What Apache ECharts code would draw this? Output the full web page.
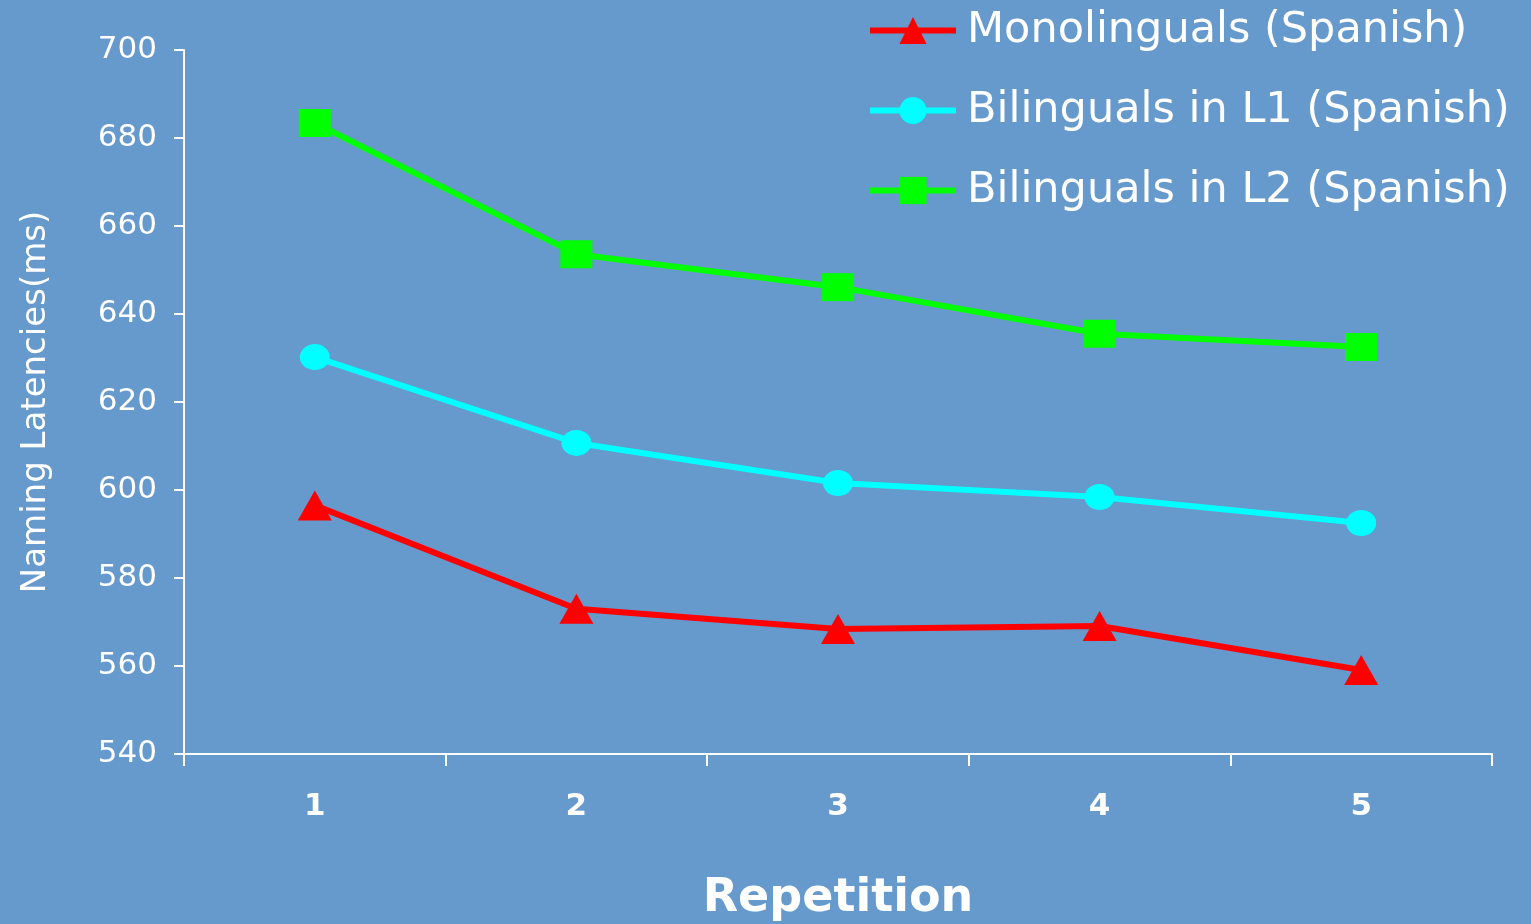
<!DOCTYPE html>
<html>
<head>
<meta charset="utf-8">
<script src="https://cdn.jsdelivr.net/npm/echarts@6/dist/echarts.min.js"></script>
<style>
  html, body { margin: 0; padding: 0; background: #6699CC; }
  #chart { width: 1531px; height: 924px; }
</style>
</head>
<body>
<div id="chart"></div>
<script>
// Repetition number on the x axis
const repetitions = ['1', '2', '3', '4', '5'];

// Mean naming latencies (ms) per group
const monolingualsSpanish = [596.5, 573, 568.4, 569.1, 559.1];
const bilingualsL1Spanish = [630.2, 610.7, 601.6, 598.4, 592.5];
const bilingualsL2Spanish = [683.4, 653.6, 646.1, 635.5, 632.5];

// Series labels for the legend
const seriesNames = [
  'Monolinguals (Spanish)',
  'Bilinguals in L1 (Spanish)',
  'Bilinguals in L2 (Spanish)'
];

const font = '"Comic Sans MS", "DejaVu Sans", sans-serif';

const chart = echarts.init(document.getElementById('chart'));

function lineSeries(name, data, color, symbol, size) {
  return {
    name: name,
    type: 'line',
    data: data,
    symbol: symbol,
    symbolSize: size,
    showSymbol: true,
    lineStyle: { color: color, width: 6 },
    itemStyle: { color: color },
    emphasis: { disabled: true },
    z: 3
  };
}

chart.setOption({
  backgroundColor: '#6699CC',
  animation: false,
  grid: {
    left: 184, right: 39, top: 50, bottom: 170,
    containLabel: false,
    outerBoundsMode: 'none'
  },
  legend: {
    orient: 'vertical',
    left: 862,
    top: 4,
    itemWidth: 86,
    itemHeight: 34,
    itemGap: 37,
    data: seriesNames,
    lineStyle: { width: 6 },
    textStyle: { color: '#ffffff', fontSize: 43, fontFamily: font, padding: [0, 0, 0, 6] }
  },
  xAxis: {
    type: 'category',
    data: repetitions,
    boundaryGap: true,
    name: 'Repetition',
    nameLocation: 'middle',
    nameGap: 122,
    nameTextStyle: { color: '#ffffff', fontSize: 46, fontWeight: 'bold', fontFamily: font },
    axisLine: { show: true, lineStyle: { color: '#ffffff', width: 2 } },
    axisTick: { show: true, length: 12, lineStyle: { color: '#ffffff', width: 2 } },
    axisLabel: { color: '#ffffff', fontSize: 31, fontWeight: 'bold', margin: 37, fontFamily: '"DejaVu Sans", sans-serif' },
    splitLine: { show: false }
  },
  yAxis: {
    type: 'value',
    min: 540,
    max: 700,
    interval: 20,
    name: 'Naming Latencies(ms)',
    nameLocation: 'middle',
    nameGap: 131,
    nameRotate: 90,
    nameTextStyle: { color: '#ffffff', fontSize: 34, fontFamily: font },
    axisLine: { show: true, lineStyle: { color: '#ffffff', width: 2 } },
    axisTick: { show: true, length: 10, inside: false, lineStyle: { color: '#ffffff', width: 2 } },
    axisLabel: { color: '#ffffff', fontSize: 31, margin: 27, fontFamily: '"DejaVu Sans", sans-serif' },
    splitLine: { show: false }
  },
  series: [
    lineSeries(seriesNames[0], monolingualsSpanish, '#FF0000', 'triangle', [34, 30]),
    lineSeries(seriesNames[1], bilingualsL1Spanish, '#00FFFF', 'circle', [30, 26]),
    lineSeries(seriesNames[2], bilingualsL2Spanish, '#00FF00', 'rect', [32, 28])
  ]
});
</script>
</body>
</html>
